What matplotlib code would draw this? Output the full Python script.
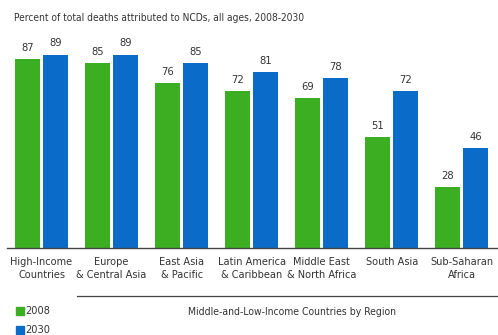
import matplotlib
matplotlib.use("Agg")
import matplotlib.pyplot as plt
from matplotlib.patches import Rectangle
from matplotlib.lines import Line2D

regions = ["High-Income\nCountries", "Europe\n& Central Asia", "East Asia\n& Pacific",
           "Latin America\n& Caribbean", "Middle East\n& North Africa", "South Asia",
           "Sub-Saharan\nAfrica"]
v2008 = [87, 85, 76, 72, 69, 51, 28]
v2030 = [89, 89, 85, 81, 78, 72, 46]
title = "Percent of total deaths attributed to NCDs, all ages, 2008-2030"
subtitle = "Middle-and-Low-Income Countries by Region"

GREEN = "#3cae22"
BLUE = "#0b6bc8"
TXT = "#333333"
FONT = dict(family="DejaVu Sans", fontstretch="condensed", color=TXT)

W, H = 498, 335
fig = plt.figure(figsize=(W / 100, H / 100), dpi=100)
ax = fig.add_axes([6.5 / W, (H - 247.7) / H, 490.3 / W, 217 / H])

x = list(range(len(regions)))
bw = 0.355
off = 0.2
b1 = ax.bar([i - off for i in x], v2008, width=bw, color=GREEN)
b2 = ax.bar([i + off for i in x], v2030, width=bw, color=BLUE)
for bars, vals in ((b1, v2008), (b2, v2030)):
    for r, v in zip(bars, vals):
        ax.annotate(str(v), (r.get_x() + r.get_width() / 2, v), xytext=(0, 4.5),
                    textcoords="offset points", ha="center", va="bottom",
                    fontsize=8, **FONT)

ax.set_xlim(-0.5, 6.5)
ax.set_ylim(0, 100)
ax.set_yticks([])
ax.set_xticks(x)
ax.set_xticklabels(regions, fontsize=7.8, linespacing=1.4, **FONT)
ax.tick_params(axis="x", length=0, pad=6.5)
for s in ("top", "right", "left"):
    ax.spines[s].set_visible(False)
ax.spines["bottom"].set_color("#444444")
ax.spines["bottom"].set_linewidth(1.0)

fig.text(14 / W, (H - 18) / H, title, fontsize=7.3, va="center", ha="left", **FONT)

fig.add_artist(Line2D([77 / W, 497 / W], [(H - 296) / H] * 2, color="#444444", lw=0.9))
fig.text(292 / W, (H - 312) / H, subtitle, fontsize=7.5, va="center", ha="center", **FONT)

for i, (lab, col) in enumerate((("2008", GREEN), ("2030", BLUE))):
    yc = 311 + i * 19
    fig.add_artist(Rectangle((16 / W, (H - yc - 4) / H), 7.5 / W, 8 / H, color=col,
                             transform=fig.transFigure))
    fig.text(25 / W, (H - yc) / H, lab, fontsize=7.8, va="center", ha="left", **FONT)

fig.savefig("out.png", dpi=100)
